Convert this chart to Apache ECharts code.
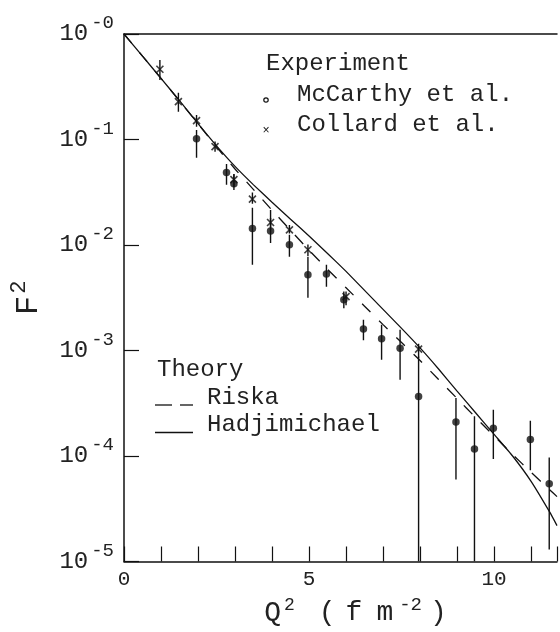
<!DOCTYPE html>
<html><head><meta charset="utf-8">
<script src="https://cdn.jsdelivr.net/npm/echarts@6/dist/echarts.min.js"></script>
<style>html,body{margin:0;padding:0;background:#fff}#c{width:560px;height:632px}</style>
</head><body><div id="c"></div>
<script>
// Theory curves, F^2 vs Q^2 (fm^-2)
const curveQ2 = [0,0.5,1,1.5,2,2.5,3,3.5,4,4.5,5,5.5,6,6.5,7,7.5,8,8.5,9,9.5,10,10.5,11,11.5,11.7];
const hadjimichael = [1,0.6166,0.3802,0.2333,0.1413,0.0871,0.0556,0.03715,0.02541,0.01758,0.01216,0.008318,0.005623,0.003715,0.002455,0.001622,0.001059,0.000668,0.000412,0.000257,0.0001603,0.0001,0.0000575,0.0000295,0.0000219];
const riska = [1,0.6166,0.3802,0.2317,0.1413,0.0851,0.0525,0.0335,0.0214,0.0138,0.00891,0.00589,0.003936,0.00263,0.001758,0.001189,0.000804,0.000531,0.000351,0.000232,0.000155,0.0001035,0.0000700,0.0000479,0.0000412];

// McCarthy et al.
const mcQ2 = [1.96,2.77,2.97,3.47,3.96,4.47,4.97,5.47,5.94,6.47,6.96,7.46,7.96,8.97,9.47,9.98,10.98,11.49];
const mcF  = [0.1014,0.0486,0.0380,0.0143,0.0136,0.01005,0.00522,0.00530,0.00302,0.00160,0.00129,0.00105,0.000367,0.000210,0.0001167,0.000183,0.000143,0.0000545];
const mcHi = [0.1233,0.0587,0.0472,0.0225,0.0215,0.0125,0.00773,0.00649,0.00363,0.00196,0.00175,0.00157,0.000879,0.000355,0.000238,0.000275,0.000216,0.0000966];
const mcLo = [0.0670,0.0372,0.0333,0.00649,0.01047,0.00773,0.00316,0.00402,0.00251,0.00125,0.000818,0.000528,0.00001,0.0000598,0.00001,0.0000938,0.0000733,0.0000130];

// Collard et al.
const coQ2 = [0.97,1.47,1.96,2.46,2.97,3.47,3.96,4.47,4.97,6.0,7.96];
const coF  = [0.4634,0.2286,0.1510,0.0857,0.0417,0.0272,0.01633,0.01393,0.00902,0.00324,0.00103];
const coHi = [0.5675,0.278,0.1710,0.0955,0.0468,0.0314,0.0180,0.01549,0.01012,0.00363,0.00116];
const coLo = [0.3664,0.1837,0.1324,0.0767,0.0355,0.02455,0.01393,0.01288,0.00785,0.00269,0.000855];

// Tick labels
const yExpLabels = ['-0','-1','-2','-3','-4','-5'];
const xTickLabels = {0:'0',5:'5',10:'10'};

const INK = '#111';
const TXT = '#222';
const MONO = '"Liberation Mono", "DejaVu Sans Mono", monospace';

const chart = echarts.init(document.getElementById('c'), null, {renderer:'canvas'});

function errRender(params, api){
  const a = api.coord([api.value(0), api.value(1)]);
  const b = api.coord([api.value(0), api.value(2)]);
  return {type:'line', shape:{x1:a[0],y1:a[1],x2:b[0],y2:b[1]}, style:{stroke:INK, lineWidth:1.4}};
}

const option = {
  animation:false,
  backgroundColor:'#fff',
  grid:{left:116, top:34, right:0, bottom:70, show:false},
  xAxis:[{
    type:'value', min:0, max:11.7, interval:1,
    axisLine:{show:true, lineStyle:{color:INK, width:1.5}},
    axisTick:{show:true, inside:true, length:15, lineStyle:{color:INK, width:1.2}},
    splitLine:{show:false},
    axisLabel:{show:true, margin:7, color:TXT, fontFamily:MONO, fontSize:21,
      formatter:v => (xTickLabels[v] !== undefined ? xTickLabels[v] : '')},
    name:'{q|Q}{s|2}{g|(}{h|f}{m|m}{t|-2}{r|)}',
    nameLocation:'middle', nameGap:34,
    nameTextStyle:{padding:[0,0,0,30], rich:{
      q:{fontFamily:MONO, fontSize:28, color:TXT},
      s:{fontFamily:MONO, fontSize:18, color:TXT, padding:[0,0,16,3]},
      g:{fontFamily:MONO, fontSize:28, color:TXT, padding:[0,0,0,24]},
      h:{fontFamily:MONO, fontSize:28, color:TXT, padding:[0,0,0,10]},
      m:{fontFamily:MONO, fontSize:28, color:TXT, padding:[0,0,0,14]},
      t:{fontFamily:MONO, fontSize:19, color:TXT, padding:[0,0,16,6]},
      r:{fontFamily:MONO, fontSize:28, color:TXT, padding:[0,0,0,8]}
    }}
  },{
    type:'value', position:'top', min:0, max:11.7,
    axisLine:{show:true, lineStyle:{color:INK, width:1.5}},
    axisTick:{show:false}, axisLabel:{show:false}, splitLine:{show:false}
  }],
  yAxis:{
    type:'log', logBase:10, min:0.00001, max:1,
    axisLine:{show:true, lineStyle:{color:INK, width:1.5}},
    axisTick:{show:true, inside:true, length:15, lineStyle:{color:INK, width:1.2}},
    minorTick:{show:false}, splitLine:{show:false},
    axisLabel:{show:true, margin:10, formatter:v => {
        const e = Math.round(-Math.log10(v));
        return '{b|10}{s|' + yExpLabels[e] + '}';
      },
      rich:{
        b:{fontFamily:MONO, fontSize:24, color:TXT, lineHeight:24},
        s:{fontFamily:MONO, fontSize:19, color:TXT, padding:[0,0,22,3]}
      }},
    name:'{f|F}{s|2}', nameLocation:'middle', nameGap:74,
    nameTextStyle:{rich:{
      f:{fontFamily:MONO, fontSize:32, color:TXT},
      s:{fontFamily:MONO, fontSize:22, color:TXT, padding:[0,0,20,2]}
    }}
  },
  series:[
    {type:'line', name:'Hadjimichael', data:curveQ2.map((x,i)=>[x,hadjimichael[i]]),
     showSymbol:false, smooth:0.15, clip:true, lineStyle:{color:INK, width:1.3}},
    {type:'line', name:'Riska', data:curveQ2.map((x,i)=>[x,riska[i]]),
     showSymbol:false, smooth:0.15, clip:true, lineStyle:{color:INK, width:1.3, type:[12,12]}},
    {type:'custom', renderItem:errRender, clip:true, z:3,
     data:mcQ2.map((x,i)=>[x,mcLo[i],mcHi[i]]), encode:{x:0,y:[1,2]}},
    {type:'custom', renderItem:errRender, clip:true, z:3,
     data:coQ2.map((x,i)=>[x,coLo[i],coHi[i]]), encode:{x:0,y:[1,2]}},
    {type:'scatter', name:'McCarthy et al.', data:mcQ2.map((x,i)=>[x,mcF[i]]),
     symbol:'circle', symbolSize:7.5, itemStyle:{color:INK}, z:4},
    {type:'scatter', name:'Collard et al.', data:coQ2.map((x,i)=>[x,coF[i]]),
     symbol:'path://M0 0L10 10M10 0L0 10', symbolSize:7,
     itemStyle:{color:'transparent', borderColor:INK, borderWidth:1.6}, z:4}
  ],
  graphic:[
    {type:'text', x:266, y:64, style:{text:'Experiment', font:'24px '+MONO, fill:TXT, verticalAlign:'middle'}},
    {type:'circle', shape:{cx:266, cy:100, r:2.2}, style:{fill:'none', stroke:INK, lineWidth:1.2}},
    {type:'text', x:297, y:95, style:{text:'McCarthy et al.', font:'24px '+MONO, fill:TXT, verticalAlign:'middle'}},
    {type:'text', x:266, y:131, style:{text:'×', font:'12px '+MONO, fill:INK, align:'center', verticalAlign:'middle'}},
    {type:'text', x:297, y:124.5, style:{text:'Collard et al.', font:'24px '+MONO, fill:TXT, verticalAlign:'middle'}},
    {type:'text', x:157, y:370, style:{text:'Theory', font:'24px '+MONO, fill:TXT, verticalAlign:'middle'}},
    {type:'line', shape:{x1:155, y1:405, x2:172, y2:405}, style:{stroke:INK, lineWidth:1.3}},
    {type:'line', shape:{x1:180, y1:405, x2:193, y2:405}, style:{stroke:INK, lineWidth:1.3}},
    {type:'text', x:207, y:398, style:{text:'Riska', font:'24px '+MONO, fill:TXT, verticalAlign:'middle'}},
    {type:'line', shape:{x1:155, y1:432.5, x2:193, y2:432.5}, style:{stroke:INK, lineWidth:1.3}},
    {type:'text', x:207, y:424.5, style:{text:'Hadjimichael', font:'24px '+MONO, fill:TXT, verticalAlign:'middle'}}
  ]
};
chart.setOption(option);
</script></body></html>
